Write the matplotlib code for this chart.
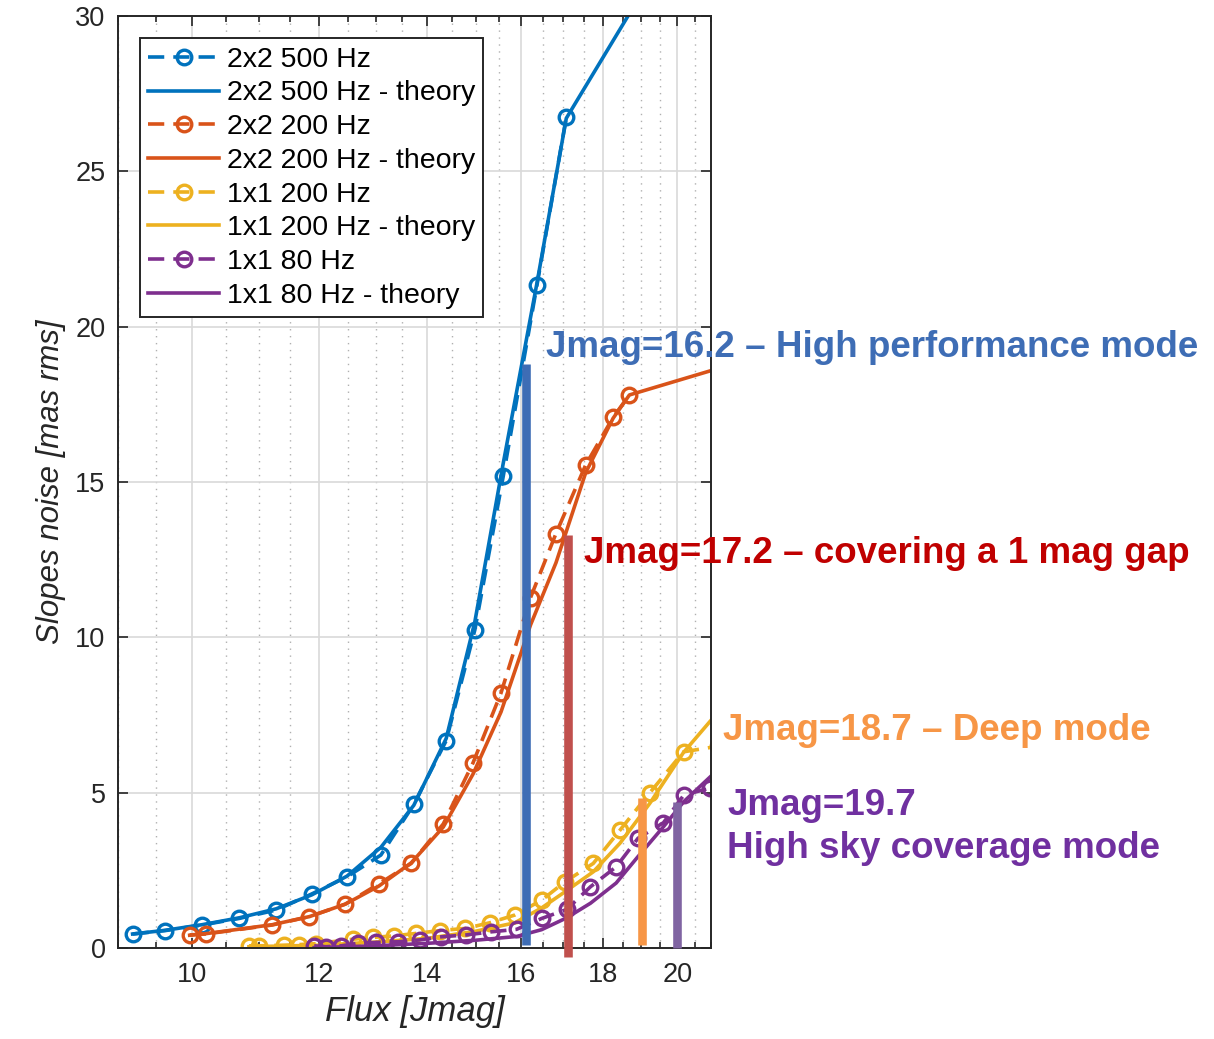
import numpy as np
import matplotlib
matplotlib.use("Agg")
import matplotlib.pyplot as plt
from matplotlib.ticker import FixedLocator, NullFormatter

plt.rcParams['font.family'] = ['Liberation Sans', 'DejaVu Sans']

# measured slopes noise vs flux (Jmag)
x_500 = [9.19, 9.63, 10.15, 10.70, 11.28, 11.87, 12.48, 13.10, 13.73, 14.38, 14.98, 15.60, 16.37, 17.07]
y_500 = [0.46, 0.57, 0.75, 0.96, 1.23, 1.75, 2.30, 3.00, 4.63, 6.68, 10.24, 15.18, 21.33, 26.73]
xt_500 = [9.19, 9.63, 10.15, 10.70, 11.28, 11.87, 12.48, 13.10, 13.73, 14.38, 14.98, 15.60, 16.37, 17.07, 19.0]
yt_500 = [0.46, 0.58, 0.76, 0.98, 1.27, 1.72, 2.32, 3.25, 4.60, 6.75, 10.5, 15.6, 21.4, 26.7, 30.7]

x_200 = [9.97, 10.20, 11.22, 11.83, 12.45, 13.06, 13.68, 14.32, 14.94, 15.55, 16.22, 16.82, 17.55, 18.25, 18.68]
y_200 = [0.43, 0.46, 0.75, 1.02, 1.42, 2.07, 2.73, 4.00, 5.96, 8.21, 11.28, 13.34, 15.55, 17.08, 17.80]
xt_200 = [9.97, 10.20, 11.22, 11.83, 12.45, 13.06, 13.68, 14.32, 14.94, 15.55, 16.22, 16.82, 17.55, 18.25, 18.68, 21.2]
yt_200 = [0.42, 0.47, 0.76, 1.02, 1.42, 2.00, 2.75, 3.90, 5.60, 7.60, 10.4, 12.4, 15.3, 17.05, 17.8, 18.65]

x_1x1_200 = [10.85, 11.01, 11.41, 11.66, 11.94, 12.58, 12.95, 13.35, 13.78, 14.25, 14.78, 15.30, 15.86,
             16.48, 17.04, 17.74, 18.43, 19.23, 20.18, 21.2]
y_1x1_200 = [0.08, 0.08, 0.10, 0.12, 0.15, 0.29, 0.35, 0.40, 0.48, 0.57, 0.64, 0.82, 1.07,
             1.55, 2.14, 2.73, 3.80, 5.00, 6.32, 6.50]
xt_1x1_200 = [10.85, 12.0, 13.0, 14.0, 15.0, 15.86, 16.48, 17.04, 17.74, 18.43, 19.23, 20.18, 21.2]
yt_1x1_200 = [0.05, 0.10, 0.20, 0.32, 0.55, 0.82, 1.30, 1.82, 2.46, 3.38, 4.66, 6.30, 7.60]

x_80 = [11.91, 12.11, 12.38, 12.67, 13.01, 13.42, 13.85, 14.28, 14.80, 15.34, 15.90, 16.48, 17.08,
        17.67, 18.33, 18.91, 19.61, 20.19, 20.95]
y_80 = [0.08, 0.05, 0.08, 0.16, 0.19, 0.21, 0.27, 0.37, 0.43, 0.53, 0.61, 0.96, 1.25,
        1.98, 2.62, 3.54, 4.04, 4.93, 5.15]
xt_80 = [11.91, 13.0, 14.0, 15.0, 15.9, 16.48, 17.08, 17.67, 18.33, 18.91, 19.61, 20.19, 21.2]
yt_80 = [0.02, 0.08, 0.16, 0.26, 0.38, 0.60, 0.98, 1.45, 2.10, 2.95, 3.91, 4.72, 5.75]

# mode markers (x, bottom, top)
mode_x = [16.12, 17.11, 19.02, 20.0]
mode_y0 = [0.1, -0.28, 0.1, 0.0]
mode_y1 = [18.79, 13.29, 4.82, 4.70]
mode_colors = ['#3E6DB5', '#C0504D', '#F79646', '#8064A2']

xticks = [10, 12, 14, 16, 18, 20]
xminor = [v for v in np.arange(9, 21.01, 0.5) if v not in xticks]

c_blue, c_orange, c_yellow, c_purple = '#0072BD', '#D95319', '#EDB120', '#7E2F8E'

fig = plt.figure(figsize=(12.14, 10.39), dpi=100)
ax = fig.add_axes([0.0972, 0.0873, 0.4888, 0.8976])

lw = 2.6
dash = (0, (4.5, 2.5))
mk = dict(marker='o', markersize=10.5, markerfacecolor='none', markeredgewidth=2.4)

series = [
    (x_500, y_500, xt_500, yt_500, c_blue, '2x2 500 Hz'),
    (x_200, y_200, xt_200, yt_200, c_orange, '2x2 200 Hz'),
    (x_1x1_200, y_1x1_200, xt_1x1_200, yt_1x1_200, c_yellow, '1x1 200 Hz'),
    (x_80, y_80, xt_80, yt_80, c_purple, '1x1 80 Hz'),
]
for xm, ym, xt, yt, col, name in series:
    ax.plot(xm, ym, linestyle=dash, color=col, lw=lw, label=name, **mk)
    ax.plot(xt, yt, '-', color=col, lw=lw, label=name + ' - theory')

ax.set_xscale('log')
ax.set_xlim(9, 21)
ax.set_ylim(0, 30)
ax.xaxis.set_major_locator(FixedLocator(xticks))
ax.xaxis.set_minor_locator(FixedLocator(xminor))
ax.set_xticklabels([str(v) for v in xticks])
ax.xaxis.set_minor_formatter(NullFormatter())
ax.set_yticks([0, 5, 10, 15, 20, 25, 30])

ax.grid(True, which='major', color='#d9d9d9', lw=1.2, ls='-')
ax.grid(True, which='minor', axis='x', color='#b0b0b0', lw=1.0, ls=(0, (1, 4)))
ax.set_axisbelow(True)

ax.tick_params(which='both', direction='in', top=True, right=True, colors='#262626',
               labelsize=19.5, width=1.2)
ax.tick_params(which='major', length=7)
ax.tick_params(which='minor', length=4)
ax.tick_params(axis='x', pad=10)
ax.tick_params(axis='y', pad=9)
for s in ax.spines.values():
    s.set_color('#262626')
    s.set_linewidth(1.4)

ax.set_xlabel('Flux [Jmag]', fontsize=25, style='italic', color='#262626', labelpad=5)
ax.set_ylabel('Slopes noise [mas rms]', fontsize=22.5, style='italic', color='#262626', labelpad=7)

leg = ax.legend(loc='upper left', bbox_to_anchor=(0.0366, 0.9758), borderaxespad=0,
                fontsize=20.5, handlelength=2.5, handletextpad=0.25, labelspacing=0.27,
                borderpad=0.3, fancybox=False, framealpha=1, edgecolor='#262626', numpoints=1)
leg.get_frame().set_linewidth(1.4)

for x, y0, y1, c in zip(mode_x, mode_y0, mode_y1, mode_colors):
    ax.plot([x, x], [y0, y1], color=c, lw=6.2, solid_capstyle='butt', clip_on=False, zorder=6)

W, H = 1214, 1039
fs = 26.5
fig.text(546 / W, 1 - 356.7 / H, 'Jmag=16.2 – High performance mode', color='#3E6DB5',
         fontsize=fs, fontweight='bold', va='baseline')
fig.text(584 / W, 1 - 563.3 / H, 'Jmag=17.2 – covering a 1 mag gap', color='#C00000',
         fontsize=fs, fontweight='bold', va='baseline')
fig.text(723 / W, 1 - 740 / H, 'Jmag=18.7 – Deep mode', color='#F79646',
         fontsize=fs, fontweight='bold', va='baseline')
fig.text(727 / W, 1 - 815 / H, 'Jmag=19.7', color='#7030A0',
         fontsize=fs, fontweight='bold', va='baseline')
fig.text(727 / W, 1 - 858.3 / H, 'High sky coverage mode', color='#7030A0',
         fontsize=fs, fontweight='bold', va='baseline')

fig.savefig('out.png', dpi=100)
